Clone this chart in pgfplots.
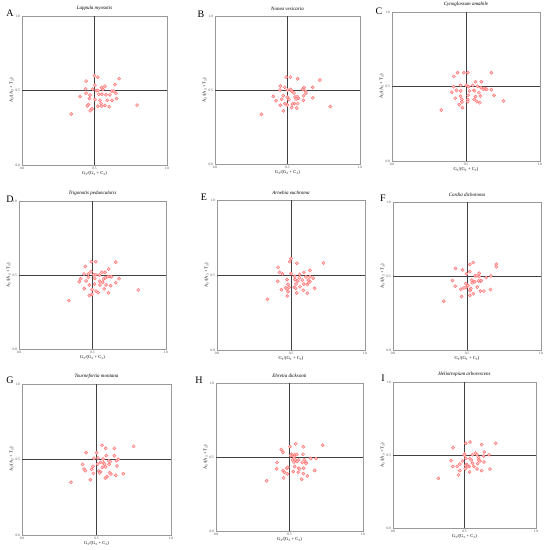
\documentclass[border=0pt]{standalone}
\usepackage{fontspec}
\setmainfont{Liberation Serif}
\usepackage{pgfplots}
\pgfplotsset{compat=1.18}

\pgfplotsset{pr2/.style={
  scale only axis, xmin=0,xmax=1,ymin=0,ymax=1,
  xtick={0,0.5,1}, ytick={0,0.5,1},
  xticklabels={0.0,0.5,1.0}, yticklabels={0.0,0.5,1.0},
  tick style={draw=none},
  ticklabel style={font=\fontsize{3.5}{4}\selectfont, text=black!70},
  xticklabel style={yshift=1.5pt},
  yticklabel style={xshift=1.5pt},
  axis line style={black!40, line width=0.8pt},
  xlabel={G\textsubscript{3}/(G\textsubscript{3} + C\textsubscript{3})},
  ylabel={A\textsubscript{3}/(A\textsubscript{3} + T\textsubscript{3})},
  label style={font=\fontsize{4.5}{5}\selectfont},
  xlabel style={yshift=5pt}, ylabel style={yshift=-5pt},
  title style={font=\itshape\fontsize{5}{6}\selectfont, yshift=-4pt},
  anchor=south west, clip=false,
}}
\pgfplotsset{pts/.style={only marks, mark=*, mark size=1.6pt,
  mark options={fill=red!22, draw=red!55, line width=0.45pt}}}
\pgfplotsset{mid/.style={black!75, line width=0.7pt}}

\newcommand{\midlines}{%
  \addplot[mid] coordinates {(0.5,0) (0.5,1)};
  \addplot[mid] coordinates {(0,0.5) (1,0.5)};}

\begin{document}
\begin{tikzpicture}
\path[use as bounding box] (0pt,0pt) rectangle (546pt,-550pt);

% A
\begin{axis}[pr2, at={(22pt,-165pt)}, width=145pt, height=149pt, title={Lappula myosotis}]
\midlines
\addplot[pts] table {
x y
0.499 0.600
0.522 0.589
0.442 0.563
0.670 0.580
0.641 0.540
0.439 0.511
0.487 0.509
0.513 0.500
0.526 0.500
0.549 0.520
0.572 0.529
0.558 0.507
0.620 0.496
0.634 0.496
0.442 0.482
0.529 0.475
0.551 0.475
0.579 0.471
0.606 0.471
0.648 0.482
0.400 0.460
0.469 0.469
0.465 0.446
0.503 0.440
0.538 0.435
0.588 0.435
0.620 0.433
0.652 0.446
0.458 0.406
0.451 0.397
0.524 0.395
0.545 0.413
0.572 0.400
0.602 0.391
0.549 0.395
0.483 0.377
0.471 0.364
0.339 0.342
0.794 0.402
0.503 0.536
};
\end{axis}

% B
\begin{axis}[pr2, at={(215pt,-164pt)}, width=145pt, height=148pt, title={Nonea vesicaria}]
\midlines
\addplot[pts] table {
x y
0.490 0.587
0.520 0.587
0.570 0.576
0.724 0.567
0.451 0.527
0.480 0.518
0.614 0.516
0.674 0.518
0.501 0.500
0.522 0.504
0.531 0.491
0.545 0.480
0.605 0.504
0.625 0.491
0.628 0.478
0.448 0.500
0.402 0.457
0.471 0.462
0.499 0.451
0.552 0.453
0.568 0.455
0.575 0.444
0.611 0.460
0.674 0.448
0.421 0.428
0.460 0.437
0.510 0.435
0.547 0.408
0.559 0.439
0.609 0.430
0.451 0.397
0.483 0.408
0.499 0.399
0.529 0.381
0.563 0.377
0.570 0.408
0.533 0.406
0.471 0.359
0.320 0.336
0.795 0.388
};
\end{axis}

% C
\begin{axis}[pr2, at={(392pt,-161pt)}, width=148pt, height=149pt, title={Cynoglossum amabile}]
\midlines
\addplot[pts] table {
x y
0.443 0.593
0.485 0.593
0.512 0.593
0.672 0.593
0.418 0.568
0.564 0.532
0.604 0.532
0.416 0.499
0.463 0.508
0.501 0.508
0.517 0.499
0.546 0.508
0.578 0.501
0.602 0.492
0.618 0.481
0.631 0.485
0.640 0.481
0.672 0.479
0.436 0.474
0.404 0.461
0.465 0.470
0.524 0.470
0.553 0.474
0.557 0.472
0.587 0.459
0.598 0.436
0.463 0.434
0.515 0.441
0.564 0.432
0.690 0.441
0.427 0.421
0.472 0.414
0.512 0.412
0.555 0.414
0.472 0.396
0.512 0.398
0.573 0.400
0.593 0.391
0.454 0.378
0.476 0.358
0.333 0.342
0.753 0.403
};
\end{axis}

% D
\begin{axis}[pr2, at={(19pt,-349pt)}, width=147pt, height=148pt, title={Trigonotis peduncularis}]
\midlines
\addplot[pts] table {
x y
0.492 0.590
0.522 0.590
0.658 0.587
0.451 0.558
0.610 0.540
0.490 0.522
0.563 0.518
0.585 0.518
0.442 0.507
0.472 0.507
0.508 0.502
0.522 0.502
0.547 0.500
0.604 0.489
0.622 0.489
0.629 0.489
0.681 0.475
0.419 0.475
0.472 0.484
0.515 0.477
0.576 0.473
0.588 0.482
0.410 0.455
0.456 0.460
0.549 0.457
0.569 0.451
0.658 0.448
0.513 0.439
0.478 0.433
0.551 0.433
0.592 0.433
0.624 0.428
0.444 0.408
0.497 0.401
0.579 0.406
0.524 0.392
0.538 0.381
0.608 0.379
0.478 0.361
0.497 0.370
0.339 0.327
0.811 0.399
};
\end{axis}

% E
\begin{axis}[pr2, at={(217pt,-350pt)}, width=148pt, height=150pt, title={Arnebia euchroma}]
\midlines
\addplot[pts] table {
x y
0.500 0.609
0.491 0.589
0.540 0.578
0.720 0.580
0.413 0.551
0.422 0.518
0.442 0.507
0.500 0.509
0.558 0.504
0.587 0.518
0.628 0.531
0.525 0.491
0.556 0.482
0.601 0.487
0.628 0.489
0.650 0.478
0.410 0.458
0.473 0.469
0.527 0.469
0.545 0.460
0.576 0.467
0.617 0.467
0.628 0.456
0.480 0.438
0.534 0.440
0.587 0.440
0.619 0.449
0.522 0.418
0.464 0.416
0.487 0.418
0.561 0.422
0.610 0.436
0.435 0.402
0.473 0.407
0.531 0.411
0.583 0.398
0.659 0.411
0.480 0.389
0.538 0.380
0.610 0.378
0.475 0.360
0.341 0.338
};
\end{axis}

% F
\begin{axis}[pr2, at={(393pt,-350pt)}, width=148pt, height=148pt, title={Cordia dichotoma}]
\midlines
\addplot[pts] table {
x y
0.542 0.591
0.519 0.578
0.698 0.580
0.698 0.562
0.422 0.551
0.470 0.542
0.519 0.530
0.497 0.515
0.582 0.519
0.555 0.501
0.567 0.501
0.582 0.497
0.630 0.490
0.661 0.501
0.533 0.472
0.546 0.463
0.578 0.467
0.591 0.465
0.402 0.470
0.492 0.449
0.535 0.454
0.553 0.461
0.596 0.470
0.420 0.431
0.506 0.434
0.492 0.422
0.526 0.416
0.569 0.425
0.458 0.411
0.479 0.420
0.521 0.402
0.591 0.398
0.614 0.398
0.542 0.380
0.659 0.409
0.463 0.362
0.519 0.369
0.343 0.330
};
\end{axis}

% G
\begin{axis}[pr2, at={(22pt,-535pt)}, width=149pt, height=151pt, title={Tournefortia montana}]
\midlines
\addplot[pts] table {
x y
0.537 0.594
0.562 0.574
0.620 0.574
0.749 0.587
0.430 0.545
0.501 0.545
0.566 0.525
0.620 0.525
0.483 0.508
0.510 0.510
0.544 0.503
0.644 0.501
0.635 0.492
0.528 0.481
0.548 0.477
0.582 0.492
0.593 0.486
0.407 0.468
0.508 0.470
0.553 0.468
0.584 0.468
0.477 0.455
0.539 0.448
0.562 0.450
0.638 0.457
0.416 0.437
0.425 0.426
0.468 0.435
0.515 0.424
0.526 0.419
0.588 0.413
0.597 0.404
0.479 0.408
0.521 0.411
0.680 0.406
0.629 0.395
0.570 0.386
0.559 0.377
0.459 0.366
0.329 0.349
};
\end{axis}

% H
\begin{axis}[pr2, at={(216pt,-531pt)}, width=147pt, height=148pt, title={Ehretia dicksonii}]
\midlines
\addplot[pts] table {
x y
0.542 0.589
0.726 0.580
0.503 0.571
0.594 0.569
0.444 0.551
0.456 0.533
0.515 0.519
0.535 0.515
0.549 0.517
0.592 0.519
0.508 0.510
0.531 0.501
0.644 0.490
0.680 0.490
0.522 0.481
0.540 0.481
0.562 0.481
0.601 0.481
0.531 0.467
0.551 0.470
0.415 0.463
0.612 0.465
0.612 0.456
0.587 0.463
0.413 0.420
0.456 0.409
0.481 0.424
0.488 0.431
0.535 0.436
0.562 0.424
0.569 0.420
0.596 0.424
0.465 0.397
0.526 0.402
0.560 0.397
0.594 0.388
0.671 0.409
0.485 0.386
0.621 0.372
0.460 0.359
0.583 0.350
0.345 0.339
};
\end{axis}

% I
\begin{axis}[pr2, at={(393pt,-528pt)}, width=143pt, height=146pt, title={Heliotropium arborescens}]
\midlines
\addplot[pts] table {
x y
0.509 0.580
0.538 0.589
0.620 0.571
0.718 0.580
0.420 0.550
0.638 0.521
0.500 0.507
0.500 0.498
0.556 0.502
0.577 0.514
0.587 0.502
0.671 0.502
0.509 0.477
0.538 0.475
0.547 0.466
0.599 0.482
0.634 0.493
0.406 0.461
0.486 0.459
0.599 0.466
0.608 0.459
0.636 0.452
0.467 0.438
0.516 0.436
0.556 0.443
0.592 0.441
0.418 0.422
0.448 0.422
0.509 0.429
0.533 0.422
0.566 0.422
0.505 0.406
0.523 0.420
0.587 0.404
0.620 0.393
0.678 0.404
0.467 0.393
0.458 0.363
0.535 0.384
0.317 0.340
};
\end{axis}

\begin{scope}[font=\fontsize{10}{12}\selectfont]
\node at (10pt,-13pt) {A};
\node at (201pt,-14pt) {B};
\node at (379pt,-11pt) {C};
\node at (10pt,-199pt) {D};
\node at (204pt,-197pt) {E};
\node at (383pt,-198pt) {F};
\node at (10pt,-380pt) {G};
\node at (199pt,-380pt) {H};
\node at (383pt,-378pt) {I};
\end{scope}
\end{tikzpicture}
\end{document}
